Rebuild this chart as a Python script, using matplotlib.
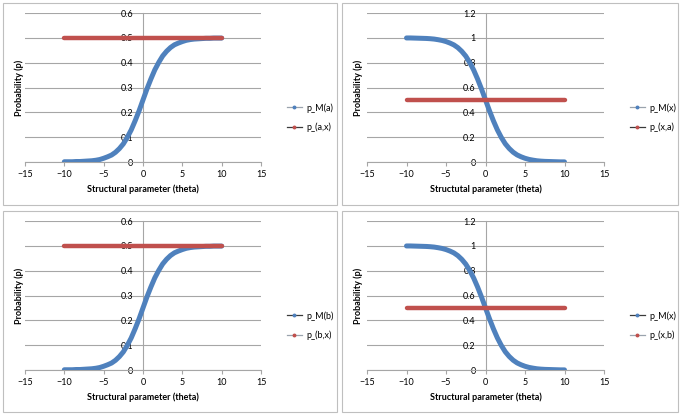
import matplotlib.pyplot as plt
from matplotlib.lines import Line2D
from matplotlib.patches import Rectangle

plt.rcParams["font.family"] = ["Lato", "DejaVu Sans"]

W, H = 685, 415

# theta values (step 0.5) and the curves
theta = [-10.0, -9.5, -9.0, -8.5, -8.0, -7.5, -7.0, -6.5, -6.0, -5.5, -5.0,
         -4.5, -4.0, -3.5, -3.0, -2.5, -2.0, -1.5, -1.0, -0.5, 0.0,
         0.5, 1.0, 1.5, 2.0, 2.5, 3.0, 3.5, 4.0, 4.5, 5.0,
         5.5, 6.0, 6.5, 7.0, 7.5, 8.0, 8.5, 9.0, 9.5, 10.0]
p_m_rising = [0.001, 0.001, 0.001, 0.002, 0.002, 0.003, 0.004, 0.005, 0.007, 0.010, 0.015,
              0.021, 0.028, 0.039, 0.054, 0.073, 0.099, 0.129, 0.166, 0.206, 0.250,
              0.294, 0.334, 0.371, 0.401, 0.427, 0.446, 0.461, 0.472, 0.479, 0.485,
              0.490, 0.493, 0.495, 0.496, 0.497, 0.498, 0.498, 0.499, 0.499, 0.499]
p_m_falling = [0.999, 0.999, 0.998, 0.997, 0.996, 0.995, 0.993, 0.990, 0.985, 0.979, 0.970,
               0.958, 0.943, 0.921, 0.891, 0.853, 0.802, 0.741, 0.668, 0.587, 0.500,
               0.413, 0.332, 0.259, 0.198, 0.147, 0.109, 0.079, 0.057, 0.042, 0.030,
               0.021, 0.015, 0.010, 0.007, 0.005, 0.004, 0.003, 0.002, 0.001, 0.001]
p_flat = [0.5] * len(theta)

y_ticks_half = [0, 0.1, 0.2, 0.3, 0.4, 0.5, 0.6]
y_ticks_full = [0, 0.2, 0.4, 0.6, 0.8, 1.0, 1.2]
x_ticks = [-15, -10, -5, 0, 5, 10, 15]

BLUE = "#4F81BD"
RED = "#C0504D"
GRID = "#A6A6A6"
LEG_GRAY = "#9AA3AD"
LEG_DARK = "#3A3A3A"

panels = [
    # (border box px, plot box px, curve, yticks, legend labels, legend line colours, x label)
    ((3, 3, 337, 205), (25, 13, 261, 162), p_m_rising, y_ticks_half,
     ("p_M(a)", "p_(a,x)"), (LEG_GRAY, LEG_DARK), "Structural parameter (theta)"),
    ((342, 3, 678, 205), (367, 13, 604, 162), p_m_falling, y_ticks_full,
     ("p_M(x)", "p_(x,a)"), (LEG_GRAY, LEG_DARK), "Structutal parameter (theta)"),
    ((3, 211, 337, 412), (25, 221, 261, 370), p_m_rising, y_ticks_half,
     ("p_M(b)", "p_(b,x)"), (LEG_DARK, LEG_GRAY), "Structural parameter (theta)"),
    ((342, 211, 678, 412), (367, 221, 604, 370), p_m_falling, y_ticks_full,
     ("p_M(x)", "p_(x,b)"), (LEG_DARK, LEG_GRAY), "Structural parameter (theta)"),
]

fig = plt.figure(figsize=(W / 100, H / 100), dpi=100)


def fbox(x0, y0, x1, y1):
    return [x0 / W, 1 - y1 / H, (x1 - x0) / W, (y1 - y0) / H]


for border, plot_box, curve, yt, labels, leg_cols, xlabel in panels:
    b = fbox(*border)
    fig.patches.append(Rectangle((b[0], b[1]), b[2], b[3], transform=fig.transFigure,
                                 fill=False, edgecolor="#BFBFBF", linewidth=0.8))
    ax = fig.add_axes(fbox(*plot_box))
    ax.plot(theta, curve, color=BLUE, linewidth=3.6, solid_capstyle="round", zorder=3)
    ax.plot(theta, p_flat, color=RED, linewidth=3.2, solid_capstyle="round", zorder=3)
    ax.set_xlim(-15, 15)
    ax.set_ylim(yt[0], yt[-1])
    ax.set_xticks(x_ticks)
    ax.set_yticks(yt)
    ax.set_yticklabels([f"{v:g}" for v in yt])
    ax.grid(axis="y", color=GRID, linewidth=0.8)
    ax.set_axisbelow(True)
    for s in ("top", "right"):
        ax.spines[s].set_visible(False)
    ax.spines["left"].set_position(("data", 0))
    ax.spines["left"].set_color(GRID)
    ax.spines["bottom"].set_color(GRID)
    ax.spines["left"].set_linewidth(0.8)
    ax.spines["bottom"].set_linewidth(0.8)
    ax.tick_params(axis="x", length=3, width=0.8, color=GRID, pad=3, labelsize=6.5)
    ax.tick_params(axis="y", length=0, pad=7, labelsize=6.5)
    ax.set_xlabel(xlabel, fontsize=6.5, fontweight="bold", labelpad=4)

    # y label placed at a fixed pixel position
    yl_x = (border[0] + 16) / W
    yl_y = 1 - (plot_box[1] + plot_box[3]) / 2 / H
    fig.text(yl_x, yl_y, "Probability (p)", rotation=90, ha="center", va="center",
             fontsize=6.5, fontweight="bold")

    handles = [
        Line2D([], [], color=leg_cols[0], linewidth=0.9, marker="o", markersize=1.8,
               markerfacecolor=BLUE, markeredgecolor=BLUE),
        Line2D([], [], color=leg_cols[1], linewidth=0.9, marker="o", markersize=1.8,
               markerfacecolor=RED, markeredgecolor=RED),
    ]
    fig.legend(handles, labels, loc="center left",
               bbox_to_anchor=((plot_box[2] + 18) / W, 1 - (plot_box[1] + plot_box[3] + 60) / 2 / H),
               frameon=False, fontsize=6.5, handlelength=1.6, handletextpad=0.5,
               labelspacing=1.1)

fig.savefig("out.png", dpi=100)
